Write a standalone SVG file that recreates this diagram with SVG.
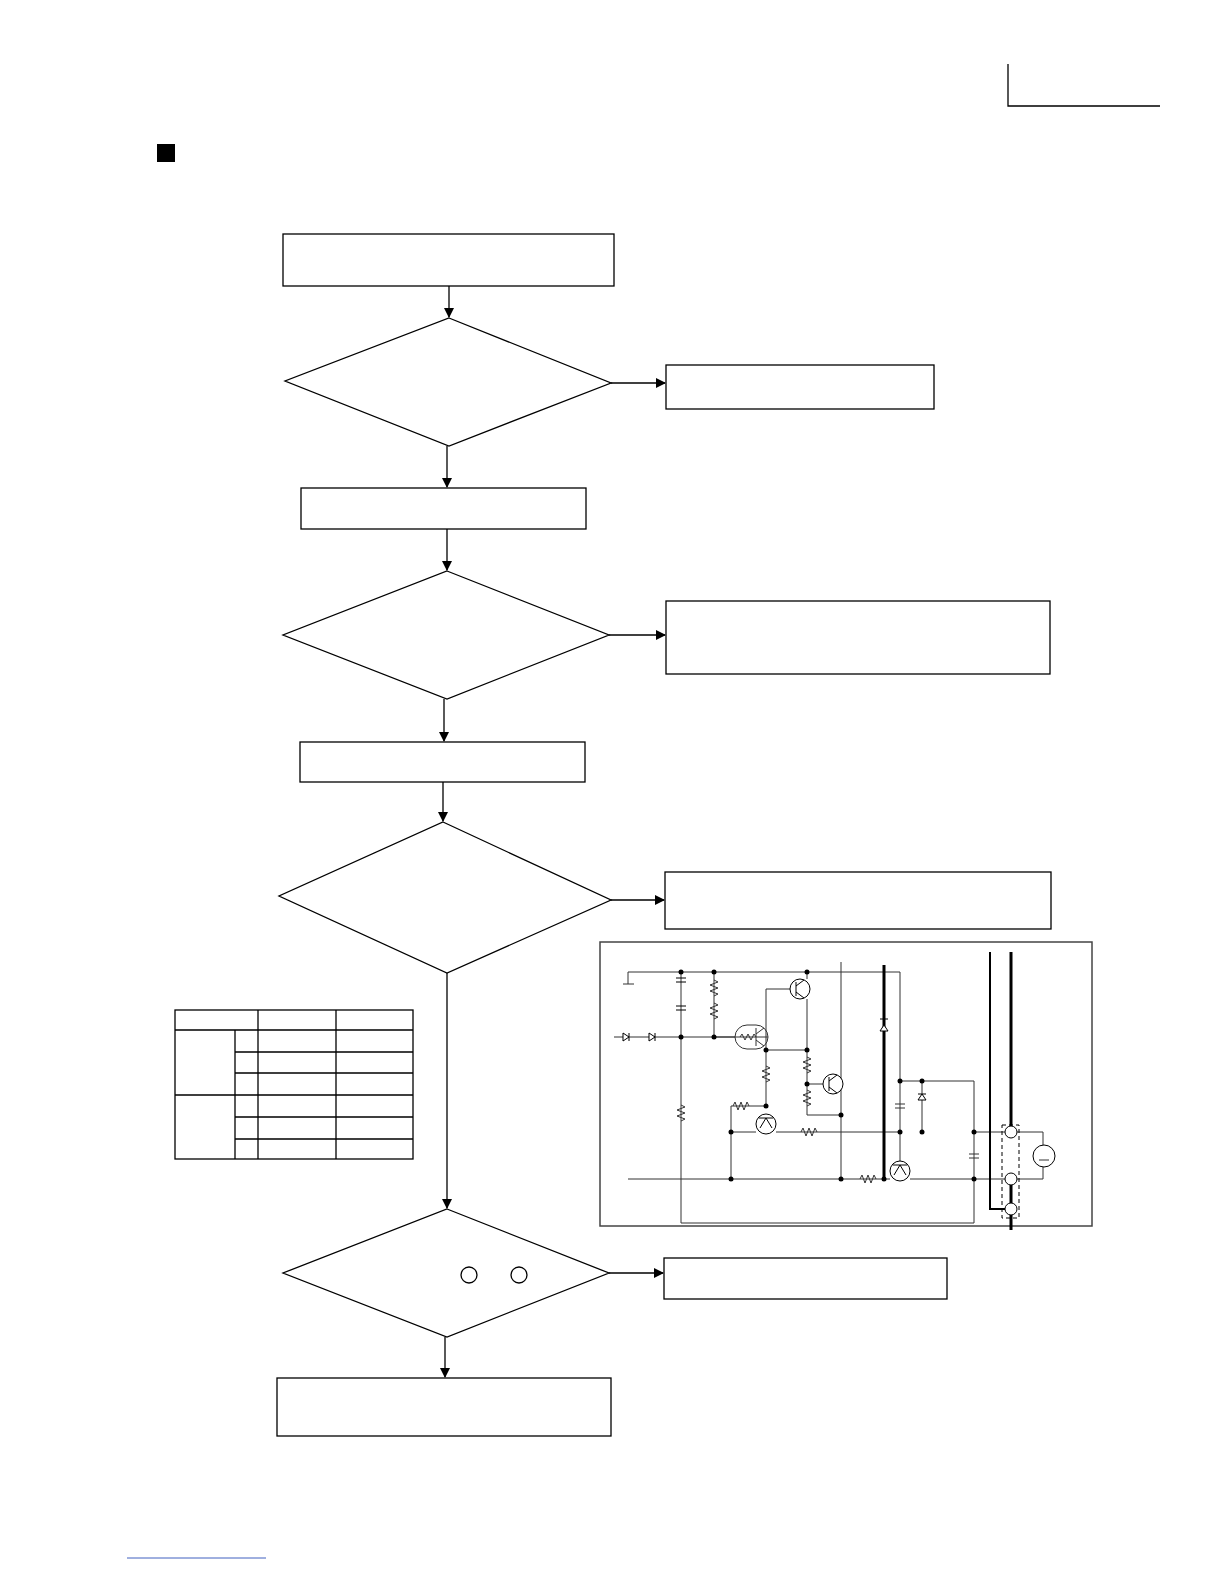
<svg xmlns="http://www.w3.org/2000/svg" width="1224" height="1584" viewBox="0 0 1224 1584">
<defs><marker id="ah" markerWidth="10" markerHeight="10" refX="9" refY="5" orient="auto" markerUnits="userSpaceOnUse"><path d="M0,0 L10,5 L0,10 z" fill="#000"/></marker></defs>
<style>.n{fill:#fff;stroke:#000;stroke-width:1.3}.c{stroke:#000;stroke-width:1.3;fill:none}.w{stroke:#333;stroke-width:1;fill:none}.t{stroke:#000;stroke-width:3;fill:none}.d{fill:#000}</style>
<rect width="1224" height="1584" fill="#fff"/>
<rect x="157" y="144" width="18" height="18" fill="#000"/>
<path class="c" d="M1008,64 V106 H1160"/>
<line x1="127" y1="1558" x2="266" y2="1558" stroke="#4060c0" stroke-width="1"/>
<g id="n1"><rect class="n" x="283" y="234" width="331" height="52"/></g>
<g id="d1"><polygon class="n" points="449,318 611,383 449,446 285,381"/></g>
<g id="n2"><rect class="n" x="666" y="365" width="268" height="44"/></g>
<g id="n3"><rect class="n" x="301" y="488" width="285" height="41"/></g>
<g id="d2"><polygon class="n" points="447,571 609,635 447,699 283,635"/></g>
<g id="n4"><rect class="n" x="666" y="601" width="384" height="73"/></g>
<g id="n5"><rect class="n" x="300" y="742" width="285" height="40"/></g>
<g id="d3"><polygon class="n" points="443,822 611,900 447,973 279,896"/></g>
<g id="n6"><rect class="n" x="665" y="872" width="386" height="57"/></g>
<g id="d4"><polygon class="n" points="447,1209 609,1273 447,1337 283,1273"/><circle class="c" cx="469" cy="1275" r="8"/><circle class="c" cx="519" cy="1275" r="8"/></g>
<g id="n7"><rect class="n" x="664" y="1258" width="283" height="41"/></g>
<g id="n8"><rect class="n" x="277" y="1378" width="334" height="58"/></g>
<g id="connectors">
<line class="c" x1="449" y1="286" x2="449" y2="317" marker-end="url(#ah)"/>
<line class="c" x1="611" y1="383" x2="665" y2="383" marker-end="url(#ah)"/>
<line class="c" x1="447" y1="446" x2="447" y2="487" marker-end="url(#ah)"/>
<line class="c" x1="447" y1="529" x2="447" y2="570" marker-end="url(#ah)"/>
<line class="c" x1="609" y1="635" x2="665" y2="635" marker-end="url(#ah)"/>
<line class="c" x1="444" y1="699" x2="444" y2="741" marker-end="url(#ah)"/>
<line class="c" x1="443" y1="782" x2="443" y2="821" marker-end="url(#ah)"/>
<line class="c" x1="611" y1="900" x2="664" y2="900" marker-end="url(#ah)"/>
<line class="c" x1="447" y1="973" x2="447" y2="1208" marker-end="url(#ah)"/>
<line class="c" x1="609" y1="1273" x2="663" y2="1273" marker-end="url(#ah)"/>
<line class="c" x1="445" y1="1337" x2="445" y2="1377" marker-end="url(#ah)"/>
</g>
<g id="table" class="c">
<rect x="175" y="1010" width="238" height="149"/>
<path d="M258,1010V1159M336,1010V1159M235,1030V1159M175,1030H413M235,1052H413M235,1073H413M175,1095H413M235,1117H413M235,1139H413"/>
</g>
<g id="circuit">
<rect x="600" y="942" width="492" height="284" fill="none" stroke="#444" stroke-width="1.5"/>
<path class="w" d="M628,984V972H900V1081M623,984H634M681,972V1223H974V1081M900,1081H974M614,1037H735M768,1037H714V972"/>
<path class="w" d="M766,989H790M766,989V1050H807M807,972V979M807,999V1050V1115H841M766,1050V1106H731V1179M841,962V1179M731,1132H756M776,1132H900M900,1081V1161M922,1081V1132M628,1179H890M910,1179H1043V1167M974,1132H1043V1145M807,1084H823"/>
<path class="t" d="M884,965V1179M1011,952V1126M1011,1185V1203M1011,1215V1230"/>
<path d="M990,952V1209H1005" stroke="#000" stroke-width="2" fill="none"/>
<path class="w" fill="#fff" d="M714,980l4,2-8,3 8,3-8,3 8,3-4,2M714,1003l4,2-8,3 8,3-8,3 8,3-4,2M807,1057l4,2-8,3 8,3-8,3 8,3-4,2M807,1090l4,2-8,3 8,3-8,3 8,3-4,2M766,1066l4,2-8,3 8,3-8,3 8,3-4,2M681,1105l4,2-8,3 8,3-8,3 8,3-4,2M733,1106l2,-4 3,8 3,-8 3,8 3,-8 2,4M801,1132l2,-4 3,8 3,-8 3,8 3,-8 2,4M860,1179l2,-4 3,8 3,-8 3,8 3,-8 2,4"/>
<rect x="735" y="1025" width="33" height="24" rx="12" class="w" fill="#fff"/>
<path class="w" d="M740,1037l2,-3 3,6 3,-6 3,6 3,-6 2,3M756,1028V1046M756,1034l8,-6M756,1040l8,6"/>
<g fill="#fff" stroke="#000" stroke-width="1">
<circle cx="800" cy="989" r="10"/><circle cx="833" cy="1084" r="10"/><circle cx="766" cy="1124" r="10"/><circle cx="900" cy="1171" r="10"/>
<path d="M796,982V996M796,986l8,-6M796,992l8,6M829,1077V1091M829,1081l8,-6M829,1087l8,6M759,1118H773M766,1118l-6,10M766,1118l6,10M893,1165H907M900,1165l-6,10M900,1165l6,10"/>
<circle cx="1011" cy="1132" r="6"/><circle cx="1011" cy="1179" r="6"/><circle cx="1011" cy="1209" r="6"/>
<circle cx="1044" cy="1156" r="11"/>
<path d="M629,1037l-6,-4v8z M629,1033v8 M655,1037l-6,-4v8z M655,1033v8 M884,1025l-4,6h8z M880,1019h8 M922,1094l-4,6h8z M918,1094h8 M676,978h10 M676,982h10 M676,1006h10M676,1010h10"/>
</g>
<rect x="1002" y="1125" width="17" height="93" fill="none" stroke="#000" stroke-dasharray="4,3"/>
<path class="w" d="M895,1104h10M895,1108h10M969,1154h10M969,1158h10M1039,1160h10"/>
<g class="d"><circle cx="681" cy="972" r="2.5"/><circle cx="714" cy="972" r="2.5"/><circle cx="807" cy="972" r="2.5"/><circle cx="681" cy="1037" r="2.5"/><circle cx="714" cy="1037" r="2.5"/><circle cx="766" cy="1050" r="2.5"/><circle cx="807" cy="1050" r="2.5"/><circle cx="807" cy="1084" r="2.5"/><circle cx="841" cy="1115" r="2.5"/><circle cx="766" cy="1106" r="2.5"/><circle cx="731" cy="1132" r="2.5"/><circle cx="900" cy="1132" r="2.5"/><circle cx="922" cy="1132" r="2.5"/><circle cx="900" cy="1081" r="2.5"/><circle cx="922" cy="1081" r="2.5"/><circle cx="731" cy="1179" r="2.5"/><circle cx="841" cy="1179" r="2.5"/><circle cx="884" cy="1179" r="2.5"/><circle cx="974" cy="1132" r="2.5"/><circle cx="974" cy="1179" r="2.5"/></g>
</g>
</svg>
